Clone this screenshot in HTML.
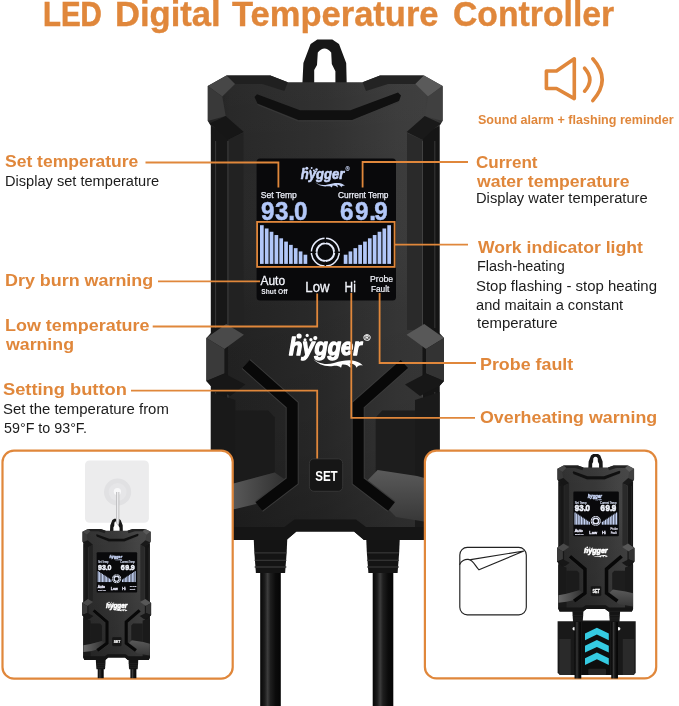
<!DOCTYPE html>
<html><head><meta charset="utf-8"><title>LED Digital Temperature Controller</title>
<style>
html,body{margin:0;padding:0;background:#fff;}
#wrap{position:relative;width:679px;height:706px;overflow:hidden;background:#fff;font-family:"Liberation Sans",sans-serif;}
svg{position:absolute;left:0;top:0;will-change:transform;}
#lab{position:absolute;left:0;top:0;width:679px;height:706px;will-change:transform;}
.t{position:absolute;white-space:nowrap;line-height:1;transform-origin:0 50%;}
</style></head><body>
<div id="wrap">
<svg width="679" height="706" viewBox="0 0 679 706">
<defs><linearGradient id="gBody" x1="0" y1="0" x2="1" y2="0">
<stop offset="0" stop-color="#1b1b1b"/><stop offset="0.1" stop-color="#242424"/><stop offset="0.5" stop-color="#2c2c2c"/><stop offset="0.8" stop-color="#383838"/><stop offset="0.92" stop-color="#3a3a3a"/><stop offset="1" stop-color="#292929"/>
</linearGradient>
<linearGradient id="gBodyV" x1="0" y1="0" x2="0" y2="1">
<stop offset="0" stop-color="#fff" stop-opacity="0.03"/><stop offset="0.2" stop-color="#fff" stop-opacity="0.015"/><stop offset="0.5" stop-color="#000" stop-opacity="0.05"/><stop offset="0.8" stop-color="#000" stop-opacity="0.12"/><stop offset="1" stop-color="#000" stop-opacity="0.24"/>
</linearGradient>
<linearGradient id="gCab" x1="0" y1="0" x2="1" y2="0">
<stop offset="0" stop-color="#060606"/><stop offset="0.22" stop-color="#1c1c1c"/><stop offset="0.36" stop-color="#3c3c3c"/><stop offset="0.5" stop-color="#1e1e1e"/><stop offset="0.75" stop-color="#0b0b0b"/><stop offset="1" stop-color="#050505"/>
</linearGradient>
<linearGradient id="gFacR" x1="0" y1="0" x2="0" y2="1">
<stop offset="0" stop-color="#5a5a5a"/><stop offset="1" stop-color="#363636"/>
</linearGradient>
<linearGradient id="gFacL" x1="0" y1="0" x2="1" y2="0">
<stop offset="0" stop-color="#686868"/><stop offset="0.4" stop-color="#525252"/><stop offset="1" stop-color="#2e2e2e"/>
</linearGradient></defs>
<g>
<path d="M302.4,83.5 L303.4,62.9 L310.6,43.9 L317.3,39.4 L332.3,39.4 L339,43.9 L346.2,62.9 L346.7,83.5 L335.4,83.5 L335.4,71.2 L331.8,64 L331.2,52.6 Q324.5,44.4 317.8,52.6 L317,65 L314.2,70.1 L314.2,83.5 Z" fill="#171717"/>
<rect x="260.2" y="570" width="20.6" height="142.0" fill="url(#gCab)"/>
<polygon points="253.7,538.0 287.3,538.0 286.7,552.0 285.1,573.0 255.9,573.0 254.3,552.0" fill="#141414"/>
<line x1="254.7" y1="552.8" x2="286.3" y2="552.8" stroke="#343434" stroke-width="1.3"/>
<line x1="254.7" y1="560.3" x2="286.3" y2="560.3" stroke="#343434" stroke-width="1.3"/>
<line x1="254.7" y1="567" x2="286.3" y2="567" stroke="#343434" stroke-width="1.3"/>
<rect x="372.7" y="570" width="20.6" height="142.0" fill="url(#gCab)"/>
<polygon points="366.2,538.0 399.8,538.0 399.2,552.0 397.6,573.0 368.4,573.0 366.8,552.0" fill="#141414"/>
<line x1="367.2" y1="552.8" x2="398.8" y2="552.8" stroke="#343434" stroke-width="1.3"/>
<line x1="367.2" y1="560.3" x2="398.8" y2="560.3" stroke="#343434" stroke-width="1.3"/>
<line x1="367.2" y1="567" x2="398.8" y2="567" stroke="#343434" stroke-width="1.3"/>
<polygon points="362.6,82.3 380.0,75.6 424.0,75.6 442.6,86.0 442.6,121.0 439.5,126.0 439.5,333.0 444.0,338.0 444.0,381.0 439.5,386.0 439.5,532.0 436.0,540.0 364.0,540.0 354.0,531.5 296.4,531.5 286.4,540.0 214.4,540.0 210.9,532.0 210.9,386.0 206.4,381.0 206.4,338.0 210.9,333.0 210.9,126.0 207.8,121.0 207.8,86.0 226.4,75.6 270.4,75.6 287.8,82.3" fill="url(#gBody)"/>
<polygon points="362.6,82.3 380.0,75.6 424.0,75.6 442.6,86.0 442.6,121.0 439.5,126.0 439.5,333.0 444.0,338.0 444.0,381.0 439.5,386.0 439.5,532.0 436.0,540.0 364.0,540.0 354.0,531.5 296.4,531.5 286.4,540.0 214.4,540.0 210.9,532.0 210.9,386.0 206.4,381.0 206.4,338.0 210.9,333.0 210.9,126.0 207.8,121.0 207.8,86.0 226.4,75.6 270.4,75.6 287.8,82.3" fill="url(#gBodyV)"/>
<polygon points="422.5,134.0 439.5,126.0 439.5,532.0 422.5,532.0" fill="#151515"/>
<polygon points="227.9,134.0 210.9,126.0 210.9,532.0 227.9,532.0" fill="#171717"/>
<polygon points="407.0,133.0 422.5,140.0 422.5,330.0 407.0,330.0" fill="#2a2a2a"/>
<polygon points="243.4,133.0 227.9,140.0 227.9,330.0 243.4,330.0" fill="#222"/>
<line x1="422.5" y1="141" x2="422.5" y2="328" stroke="#444" stroke-width="0.9"/>
<line x1="227.89999999999998" y1="141" x2="227.89999999999998" y2="328" stroke="#444" stroke-width="0.9"/>
<line x1="422.5" y1="392" x2="422.5" y2="470" stroke="#444" stroke-width="0.9"/>
<line x1="227.89999999999998" y1="392" x2="227.89999999999998" y2="470" stroke="#444" stroke-width="0.9"/>
<line x1="434.8" y1="141" x2="434.8" y2="328" stroke="#3c3c3c" stroke-width="0.9"/>
<line x1="215.59999999999997" y1="141" x2="215.59999999999997" y2="328" stroke="#3c3c3c" stroke-width="0.9"/>
<line x1="434.8" y1="392" x2="434.8" y2="470" stroke="#3c3c3c" stroke-width="0.9"/>
<line x1="215.59999999999997" y1="392" x2="215.59999999999997" y2="470" stroke="#3c3c3c" stroke-width="0.9"/>
<polygon points="380.0,75.6 423.9,75.6 415.4,84.0 388.0,84.0 366.0,91.0 362.6,82.3" fill="#232323"/>
<polygon points="270.4,75.6 226.5,75.6 235.0,84.0 262.4,84.0 284.4,91.0 287.8,82.3" fill="#202020"/>
<polygon points="415.4,84.0 423.9,75.6 442.6,86.0 428.1,96.4" fill="#5a5a5a"/>
<polygon points="235.0,84.0 226.5,75.6 207.8,86.0 222.3,96.4" fill="#474747"/>
<polygon points="428.1,96.4 442.6,86.0 442.6,121.0 424.7,116.0" fill="#404040"/>
<polygon points="222.3,96.4 207.8,86.0 207.8,121.0 225.7,116.0" fill="#393939"/>
<polygon points="424.7,116.0 440.9,123.6 435.0,128.0 422.2,139.8 406.6,132.1" fill="#191919"/>
<polygon points="225.7,116.0 209.5,123.6 215.4,128.0 228.2,139.8 243.8,132.1" fill="#161616"/>
<polygon points="254.5,97.0 257.0,94.2 300.0,110.3 350.4,110.3 398.0,92.6 401.0,95.5 399.0,101.0 352.0,120.0 298.4,120.0 257.5,103.5" fill="#101010"/>
<polyline points="257.5,104.5 298.4,121.0 352.0,121.0 399.0,102.0" fill="none" stroke="#3a3a3a" stroke-width="0.8"/>
<polygon points="406.5,334.7 424.2,324.0 444.0,338.0 426.0,349.0" fill="#585858"/>
<polygon points="243.9,334.7 226.2,324.0 206.4,338.0 224.4,349.0" fill="#4a4a4a"/>
<polygon points="426.0,349.0 444.0,338.0 444.0,381.0 426.0,373.6" fill="#333"/>
<polygon points="224.4,349.0 206.4,338.0 206.4,381.0 224.4,373.6" fill="#3a3a3a"/>
<polygon points="426.0,373.6 444.0,381.0 439.5,386.0 420.0,396.0 405.0,384.5" fill="#171717"/>
<polygon points="224.4,373.6 206.4,381.0 210.9,386.0 230.4,396.0 245.4,384.5" fill="#171717"/>
<polygon points="375.7,417.4 382.2,410.4 415.0,410.4 415.0,483.0 375.7,472.4" fill="#1d1d1d"/>
<polygon points="274.7,417.4 268.2,410.4 235.4,410.4 235.4,483.0 274.7,472.4" fill="#1b1b1b"/>
<polygon points="415.0,400.0 439.5,392.0 439.5,529.0 415.0,529.0" fill="#1a1a1a"/>
<polygon points="235.4,400.0 210.9,392.0 210.9,529.0 235.4,529.0" fill="#191919"/>
<polygon points="377.6,470.0 417.0,476.0 439.5,482.0 439.5,524.0 396.0,517.0 364.0,484.0" fill="url(#gFacR)"/>
<polygon points="235.4,483.0 274.7,472.4 287.0,481.0 256.0,504.0 235.4,509.0 210.9,512.0 210.9,488.0" fill="url(#gFacL)"/>
<polyline points="404.4,364.0 358.2,405.0 358.2,481.0 391.5,506.5" fill="none" stroke="#3a3a3a" stroke-width="13" stroke-linejoin="miter"/>
<polyline points="404.4,364.0 358.2,405.0 358.2,481.0 391.5,506.5" fill="none" stroke="#080808" stroke-width="11" stroke-linejoin="miter"/>
<polyline points="246.0,364.0 292.2,405.0 292.2,481.0 258.9,506.5" fill="none" stroke="#3a3a3a" stroke-width="13" stroke-linejoin="miter"/>
<polyline points="246.0,364.0 292.2,405.0 292.2,481.0 258.9,506.5" fill="none" stroke="#080808" stroke-width="11" stroke-linejoin="miter"/>
<polygon points="439.5,527.0 366.0,527.0 356.0,519.5 294.4,519.5 284.4,527.0 210.9,527.0 210.9,532.0 214.4,540.0 286.4,540.0 296.4,531.5 354.0,531.5 364.0,540.0 436.0,540.0 439.5,532.0" fill="#151515"/>
<rect x="256.6" y="158.6" width="139.4" height="142" rx="3.5" fill="#09090b"/>
<rect x="260.00" y="225.20" width="3.7" height="38.70" fill="#b2c7f8"/>
<rect x="387.30" y="225.20" width="3.7" height="38.70" fill="#b2c7f8"/>
<rect x="264.84" y="228.48" width="3.7" height="35.42" fill="#b2c7f8"/>
<rect x="382.46" y="228.48" width="3.7" height="35.42" fill="#b2c7f8"/>
<rect x="269.68" y="231.76" width="3.7" height="32.14" fill="#b2c7f8"/>
<rect x="377.62" y="231.76" width="3.7" height="32.14" fill="#b2c7f8"/>
<rect x="274.52" y="235.03" width="3.7" height="28.87" fill="#b2c7f8"/>
<rect x="372.78" y="235.03" width="3.7" height="28.87" fill="#b2c7f8"/>
<rect x="279.36" y="238.31" width="3.7" height="25.59" fill="#b2c7f8"/>
<rect x="367.94" y="238.31" width="3.7" height="25.59" fill="#b2c7f8"/>
<rect x="284.20" y="241.59" width="3.7" height="22.31" fill="#b2c7f8"/>
<rect x="363.10" y="241.59" width="3.7" height="22.31" fill="#b2c7f8"/>
<rect x="289.04" y="244.87" width="3.7" height="19.03" fill="#b2c7f8"/>
<rect x="358.26" y="244.87" width="3.7" height="19.03" fill="#b2c7f8"/>
<rect x="293.88" y="248.14" width="3.7" height="15.76" fill="#b2c7f8"/>
<rect x="353.42" y="248.14" width="3.7" height="15.76" fill="#b2c7f8"/>
<rect x="298.72" y="251.42" width="3.7" height="12.48" fill="#b2c7f8"/>
<rect x="348.58" y="251.42" width="3.7" height="12.48" fill="#b2c7f8"/>
<rect x="303.56" y="254.70" width="3.7" height="9.20" fill="#b2c7f8"/>
<rect x="343.74" y="254.70" width="3.7" height="9.20" fill="#b2c7f8"/>
<circle cx="325.3" cy="252.2" r="13.9" fill="none" stroke="#e6ebfb" stroke-width="1.5"/>
<circle cx="325.3" cy="252.2" r="8.9" fill="none" stroke="#e6ebfb" stroke-width="2.1"/>
<path d="M325.3,236 V243 M325.3,261.5 V268 M309,252.2 H316.2 M334.4,252.2 H341.5" stroke="#09090b" stroke-width="1.5"/>
<rect x="309.4" y="458.8" width="33.3" height="32.5" rx="4.5" fill="#161616" stroke="#383838" stroke-width="0.9"/>
<text x="260.8" y="197.5" font-family="Liberation Sans, sans-serif" font-size="9.6" fill="#eef1fb" stroke="#eef1fb" stroke-width="0.25" textLength="36" lengthAdjust="spacingAndGlyphs">Set Temp</text>
<text x="338" y="197.5" font-family="Liberation Sans, sans-serif" font-size="9.6" fill="#eef1fb" stroke="#eef1fb" stroke-width="0.25" textLength="50.5" lengthAdjust="spacingAndGlyphs">Current Temp</text>
<g transform="translate(0,219.6) scale(1.1,1.2)" font-family="Liberation Sans, sans-serif" font-weight="bold" font-size="22" fill="#b2c7f8" stroke="#b2c7f8" stroke-width="0.45"><text y="0" x="237.18 249.91 262.00 267.36">93.0</text><text y="0" x="309.00 322.64 335.64 340.18">69.9</text></g>
<g transform="translate(300.2,179.4) scale(0.6) translate(-288.1,-354.5)" fill="#c9d6f8">
<text x="289" y="354.6" font-family="Liberation Sans, sans-serif" font-size="24" font-weight="bold" font-style="italic" stroke="#c9d6f8" stroke-width="1.0" stroke-linejoin="round" textLength="72.6" lengthAdjust="spacingAndGlyphs">hygger</text>
<text x="363.6" y="341.2" font-family="Liberation Sans, sans-serif" font-size="9.6" stroke="#c9d6f8" stroke-width="0.2">®</text>
<path d="M313,358.5 C317,363 325,365.5 334,363 C342,360.8 349,359.5 355,361 C359,362 361.5,363.8 362.8,365.5 C359.5,364.8 357.5,365.5 356.6,367.8 C355.5,365 353,363.6 349.5,363.6 C350.8,365 351,366.5 350.5,367.8 C348.5,365.5 346,364.3 342.5,364.5 C341.5,364.6 341.8,366.5 341,367.8 C339,366 336.5,365.6 333,366 C325,367 317,364 313,358.5 Z"/>
<circle cx="299.1" cy="336" r="2.6"/>
<circle cx="305" cy="339.7" r="1.5"/>
<circle cx="307.2" cy="335.4" r="1.6"/>
<circle cx="310.9" cy="339.7" r="1.7"/>
<circle cx="315.3" cy="338.1" r="2.1"/>
</g>
<text x="260.5" y="284.6" font-family="Liberation Sans, sans-serif" font-size="12.2" fill="#f3f5fc" stroke="#f3f5fc" stroke-width="0.3" textLength="24.6" lengthAdjust="spacingAndGlyphs">Auto</text>
<text x="261.3" y="294" font-family="Liberation Sans, sans-serif" font-size="7.4" font-weight="bold" fill="#f3f5fc" textLength="26.3" lengthAdjust="spacingAndGlyphs">Shut Off</text>
<text x="305.3" y="292" font-family="Liberation Sans, sans-serif" font-size="14" fill="#f3f5fc" stroke="#f3f5fc" stroke-width="0.3" textLength="24.2" lengthAdjust="spacingAndGlyphs">Low</text>
<text x="344.6" y="292" font-family="Liberation Sans, sans-serif" font-size="14" fill="#f3f5fc" stroke="#f3f5fc" stroke-width="0.3" textLength="11.2" lengthAdjust="spacingAndGlyphs">Hi</text>
<text x="370.1" y="281.5" font-family="Liberation Sans, sans-serif" font-size="9" fill="#f3f5fc" stroke="#f3f5fc" stroke-width="0.2" textLength="23" lengthAdjust="spacingAndGlyphs">Probe</text>
<text x="370.9" y="291.5" font-family="Liberation Sans, sans-serif" font-size="9" fill="#f3f5fc" stroke="#f3f5fc" stroke-width="0.2" textLength="18.5" lengthAdjust="spacingAndGlyphs">Fault</text>
<g fill="#fff">
<text x="289" y="354.6" font-family="Liberation Sans, sans-serif" font-size="24" font-weight="bold" font-style="italic" stroke="#fff" stroke-width="1.3" stroke-linejoin="round" textLength="72.6" lengthAdjust="spacingAndGlyphs">hygger</text>
<text x="363.6" y="341.2" font-family="Liberation Sans, sans-serif" font-size="9.6" stroke="#fff" stroke-width="0.2">®</text>
<path d="M313,358.5 C317,363 325,365.5 334,363 C342,360.8 349,359.5 355,361 C359,362 361.5,363.8 362.8,365.5 C359.5,364.8 357.5,365.5 356.6,367.8 C355.5,365 353,363.6 349.5,363.6 C350.8,365 351,366.5 350.5,367.8 C348.5,365.5 346,364.3 342.5,364.5 C341.5,364.6 341.8,366.5 341,367.8 C339,366 336.5,365.6 333,366 C325,367 317,364 313,358.5 Z"/>
<circle cx="299.1" cy="336" r="2.6"/>
<circle cx="305" cy="339.7" r="1.5"/>
<circle cx="307.2" cy="335.4" r="1.6"/>
<circle cx="310.9" cy="339.7" r="1.7"/>
<circle cx="315.3" cy="338.1" r="2.1"/>
</g>
<text x="315.2" y="480.8" font-family="Liberation Sans, sans-serif" font-size="14.4" font-weight="bold" fill="#fff" textLength="22.5" lengthAdjust="spacingAndGlyphs">SET</text>
</g>
<path d="M145.5,162.5 H278.4 V187.5" fill="none" stroke="#e0873b" stroke-width="1.8"/>
<path d="M158,281.4 H260" fill="none" stroke="#e0873b" stroke-width="1.8"/>
<path d="M152.7,326.5 H317.2 V293.5" fill="none" stroke="#e0873b" stroke-width="1.8"/>
<path d="M131,390.6 H317.2 V458.5" fill="none" stroke="#e0873b" stroke-width="1.8"/>
<path d="M468,162 H362.6 V187.5" fill="none" stroke="#e0873b" stroke-width="1.8"/>
<path d="M468,244.6 H394.6" fill="none" stroke="#e0873b" stroke-width="1.8"/>
<path d="M476,363 H379.6 V293" fill="none" stroke="#e0873b" stroke-width="1.8"/>
<path d="M475,417.8 H351.3 V293" fill="none" stroke="#e0873b" stroke-width="1.8"/>
<rect x="257.1" y="221.9" width="137.5" height="45" fill="none" stroke="#e0873b" stroke-width="1.8"/>
<g fill="none" stroke="#e0873b" stroke-width="3.6" stroke-linecap="round" stroke-linejoin="round">
<path d="M546.4,71 H556.5 L574.3,58.8 V98.6 L556.5,88.5 H546.4 Z"/>
<path d="M584.6,68.2 Q595,79.8 584.6,91.2"/>
<path d="M592.8,58.8 Q611.5,79.8 592.8,100.6"/>
</g>
<rect x="2.5" y="450.6" width="230.2" height="228.1" rx="11.5" fill="#fff" stroke="#e0873b" stroke-width="2.2"/>
<rect x="424.9" y="450.6" width="231.3" height="227.8" rx="11.5" fill="#fff" stroke="#e0873b" stroke-width="2.2"/>
<rect x="85" y="460.5" width="63.9" height="62.2" rx="4.5" fill="#ececed"/>
<circle cx="117.6" cy="492" r="13.6" fill="#e1e1e3"/>
<circle cx="117.6" cy="492" r="9" fill="#e6e6e8"/>
<circle cx="117.4" cy="491.5" r="3.6" fill="#f8f8f9"/>

<g transform="translate(22.161,507.558) scale(0.29040,0.28230)">
<path d="M302.4,83.5 L303.4,62.9 L310.6,43.9 L317.3,39.4 L332.3,39.4 L339,43.9 L346.2,62.9 L346.7,83.5 L335.4,83.5 L335.4,71.2 L331.8,64 L331.2,52.6 Q324.5,44.4 317.8,52.6 L317,65 L314.2,70.1 L314.2,83.5 Z" fill="#171717"/>
<rect x="260.2" y="570" width="20.6" height="34.5" fill="url(#gCab)"/>
<polygon points="253.7,538.0 287.3,538.0 286.7,552.0 285.1,573.0 255.9,573.0 254.3,552.0" fill="#141414"/>
<line x1="254.7" y1="552.8" x2="286.3" y2="552.8" stroke="#343434" stroke-width="1.3"/>
<line x1="254.7" y1="560.3" x2="286.3" y2="560.3" stroke="#343434" stroke-width="1.3"/>
<line x1="254.7" y1="567" x2="286.3" y2="567" stroke="#343434" stroke-width="1.3"/>
<rect x="372.7" y="570" width="20.6" height="34.5" fill="url(#gCab)"/>
<polygon points="366.2,538.0 399.8,538.0 399.2,552.0 397.6,573.0 368.4,573.0 366.8,552.0" fill="#141414"/>
<line x1="367.2" y1="552.8" x2="398.8" y2="552.8" stroke="#343434" stroke-width="1.3"/>
<line x1="367.2" y1="560.3" x2="398.8" y2="560.3" stroke="#343434" stroke-width="1.3"/>
<line x1="367.2" y1="567" x2="398.8" y2="567" stroke="#343434" stroke-width="1.3"/>
<polygon points="362.6,82.3 380.0,75.6 424.0,75.6 442.6,86.0 442.6,121.0 439.5,126.0 439.5,333.0 444.0,338.0 444.0,381.0 439.5,386.0 439.5,532.0 436.0,540.0 364.0,540.0 354.0,531.5 296.4,531.5 286.4,540.0 214.4,540.0 210.9,532.0 210.9,386.0 206.4,381.0 206.4,338.0 210.9,333.0 210.9,126.0 207.8,121.0 207.8,86.0 226.4,75.6 270.4,75.6 287.8,82.3" fill="url(#gBody)"/>
<polygon points="362.6,82.3 380.0,75.6 424.0,75.6 442.6,86.0 442.6,121.0 439.5,126.0 439.5,333.0 444.0,338.0 444.0,381.0 439.5,386.0 439.5,532.0 436.0,540.0 364.0,540.0 354.0,531.5 296.4,531.5 286.4,540.0 214.4,540.0 210.9,532.0 210.9,386.0 206.4,381.0 206.4,338.0 210.9,333.0 210.9,126.0 207.8,121.0 207.8,86.0 226.4,75.6 270.4,75.6 287.8,82.3" fill="url(#gBodyV)"/>
<polygon points="362.6,82.3 380.0,75.6 424.0,75.6 442.6,86.0 442.6,121.0 439.5,126.0 439.5,333.0 444.0,338.0 444.0,381.0 439.5,386.0 439.5,532.0 436.0,540.0 364.0,540.0 354.0,531.5 296.4,531.5 286.4,540.0 214.4,540.0 210.9,532.0 210.9,386.0 206.4,381.0 206.4,338.0 210.9,333.0 210.9,126.0 207.8,121.0 207.8,86.0 226.4,75.6 270.4,75.6 287.8,82.3" fill="#fff" opacity="0.045"/>
<polygon points="422.5,134.0 439.5,126.0 439.5,532.0 422.5,532.0" fill="#151515"/>
<polygon points="227.9,134.0 210.9,126.0 210.9,532.0 227.9,532.0" fill="#171717"/>
<polygon points="407.0,133.0 422.5,140.0 422.5,330.0 407.0,330.0" fill="#2a2a2a"/>
<polygon points="243.4,133.0 227.9,140.0 227.9,330.0 243.4,330.0" fill="#222"/>
<line x1="422.5" y1="141" x2="422.5" y2="328" stroke="#444" stroke-width="0.9"/>
<line x1="227.89999999999998" y1="141" x2="227.89999999999998" y2="328" stroke="#444" stroke-width="0.9"/>
<line x1="422.5" y1="392" x2="422.5" y2="470" stroke="#444" stroke-width="0.9"/>
<line x1="227.89999999999998" y1="392" x2="227.89999999999998" y2="470" stroke="#444" stroke-width="0.9"/>
<line x1="434.8" y1="141" x2="434.8" y2="328" stroke="#3c3c3c" stroke-width="0.9"/>
<line x1="215.59999999999997" y1="141" x2="215.59999999999997" y2="328" stroke="#3c3c3c" stroke-width="0.9"/>
<line x1="434.8" y1="392" x2="434.8" y2="470" stroke="#3c3c3c" stroke-width="0.9"/>
<line x1="215.59999999999997" y1="392" x2="215.59999999999997" y2="470" stroke="#3c3c3c" stroke-width="0.9"/>
<polygon points="380.0,75.6 423.9,75.6 415.4,84.0 388.0,84.0 366.0,91.0 362.6,82.3" fill="#232323"/>
<polygon points="270.4,75.6 226.5,75.6 235.0,84.0 262.4,84.0 284.4,91.0 287.8,82.3" fill="#202020"/>
<polygon points="415.4,84.0 423.9,75.6 442.6,86.0 428.1,96.4" fill="#5a5a5a"/>
<polygon points="235.0,84.0 226.5,75.6 207.8,86.0 222.3,96.4" fill="#474747"/>
<polygon points="428.1,96.4 442.6,86.0 442.6,121.0 424.7,116.0" fill="#404040"/>
<polygon points="222.3,96.4 207.8,86.0 207.8,121.0 225.7,116.0" fill="#393939"/>
<polygon points="424.7,116.0 440.9,123.6 435.0,128.0 422.2,139.8 406.6,132.1" fill="#191919"/>
<polygon points="225.7,116.0 209.5,123.6 215.4,128.0 228.2,139.8 243.8,132.1" fill="#161616"/>
<polygon points="254.5,97.0 257.0,94.2 300.0,110.3 350.4,110.3 398.0,92.6 401.0,95.5 399.0,101.0 352.0,120.0 298.4,120.0 257.5,103.5" fill="#101010"/>
<polyline points="257.5,104.5 298.4,121.0 352.0,121.0 399.0,102.0" fill="none" stroke="#3a3a3a" stroke-width="0.8"/>
<polygon points="406.5,334.7 424.2,324.0 444.0,338.0 426.0,349.0" fill="#585858"/>
<polygon points="243.9,334.7 226.2,324.0 206.4,338.0 224.4,349.0" fill="#4a4a4a"/>
<polygon points="426.0,349.0 444.0,338.0 444.0,381.0 426.0,373.6" fill="#333"/>
<polygon points="224.4,349.0 206.4,338.0 206.4,381.0 224.4,373.6" fill="#3a3a3a"/>
<polygon points="426.0,373.6 444.0,381.0 439.5,386.0 420.0,396.0 405.0,384.5" fill="#171717"/>
<polygon points="224.4,373.6 206.4,381.0 210.9,386.0 230.4,396.0 245.4,384.5" fill="#171717"/>
<polygon points="375.7,417.4 382.2,410.4 415.0,410.4 415.0,483.0 375.7,472.4" fill="#1d1d1d"/>
<polygon points="274.7,417.4 268.2,410.4 235.4,410.4 235.4,483.0 274.7,472.4" fill="#1b1b1b"/>
<polygon points="415.0,400.0 439.5,392.0 439.5,529.0 415.0,529.0" fill="#1a1a1a"/>
<polygon points="235.4,400.0 210.9,392.0 210.9,529.0 235.4,529.0" fill="#191919"/>
<polygon points="377.6,470.0 417.0,476.0 439.5,482.0 439.5,524.0 396.0,517.0 364.0,484.0" fill="url(#gFacR)"/>
<polygon points="235.4,483.0 274.7,472.4 287.0,481.0 256.0,504.0 235.4,509.0 210.9,512.0 210.9,488.0" fill="url(#gFacL)"/>
<polyline points="404.4,364.0 358.2,405.0 358.2,481.0 391.5,506.5" fill="none" stroke="#3a3a3a" stroke-width="13" stroke-linejoin="miter"/>
<polyline points="404.4,364.0 358.2,405.0 358.2,481.0 391.5,506.5" fill="none" stroke="#080808" stroke-width="11" stroke-linejoin="miter"/>
<polyline points="246.0,364.0 292.2,405.0 292.2,481.0 258.9,506.5" fill="none" stroke="#3a3a3a" stroke-width="13" stroke-linejoin="miter"/>
<polyline points="246.0,364.0 292.2,405.0 292.2,481.0 258.9,506.5" fill="none" stroke="#080808" stroke-width="11" stroke-linejoin="miter"/>
<polygon points="439.5,527.0 366.0,527.0 356.0,519.5 294.4,519.5 284.4,527.0 210.9,527.0 210.9,532.0 214.4,540.0 286.4,540.0 296.4,531.5 354.0,531.5 364.0,540.0 436.0,540.0 439.5,532.0" fill="#151515"/>
<rect x="256.6" y="158.6" width="139.4" height="142" rx="3.5" fill="#09090b"/>
<rect x="260.00" y="225.20" width="3.7" height="38.70" fill="#c6d4f6"/>
<rect x="387.30" y="225.20" width="3.7" height="38.70" fill="#c6d4f6"/>
<rect x="264.84" y="228.48" width="3.7" height="35.42" fill="#c6d4f6"/>
<rect x="382.46" y="228.48" width="3.7" height="35.42" fill="#c6d4f6"/>
<rect x="269.68" y="231.76" width="3.7" height="32.14" fill="#c6d4f6"/>
<rect x="377.62" y="231.76" width="3.7" height="32.14" fill="#c6d4f6"/>
<rect x="274.52" y="235.03" width="3.7" height="28.87" fill="#c6d4f6"/>
<rect x="372.78" y="235.03" width="3.7" height="28.87" fill="#c6d4f6"/>
<rect x="279.36" y="238.31" width="3.7" height="25.59" fill="#c6d4f6"/>
<rect x="367.94" y="238.31" width="3.7" height="25.59" fill="#c6d4f6"/>
<rect x="284.20" y="241.59" width="3.7" height="22.31" fill="#c6d4f6"/>
<rect x="363.10" y="241.59" width="3.7" height="22.31" fill="#c6d4f6"/>
<rect x="289.04" y="244.87" width="3.7" height="19.03" fill="#c6d4f6"/>
<rect x="358.26" y="244.87" width="3.7" height="19.03" fill="#c6d4f6"/>
<rect x="293.88" y="248.14" width="3.7" height="15.76" fill="#c6d4f6"/>
<rect x="353.42" y="248.14" width="3.7" height="15.76" fill="#c6d4f6"/>
<rect x="298.72" y="251.42" width="3.7" height="12.48" fill="#c6d4f6"/>
<rect x="348.58" y="251.42" width="3.7" height="12.48" fill="#c6d4f6"/>
<rect x="303.56" y="254.70" width="3.7" height="9.20" fill="#c6d4f6"/>
<rect x="343.74" y="254.70" width="3.7" height="9.20" fill="#c6d4f6"/>
<circle cx="325.3" cy="252.2" r="13.9" fill="none" stroke="#e6ebfb" stroke-width="3.2"/>
<circle cx="325.3" cy="252.2" r="8.9" fill="none" stroke="#e6ebfb" stroke-width="4.5"/>
<path d="M325.3,236 V243 M325.3,261.5 V268 M309,252.2 H316.2 M334.4,252.2 H341.5" stroke="#09090b" stroke-width="1.5"/>
<rect x="309.4" y="458.8" width="33.3" height="32.5" rx="4.5" fill="#161616" stroke="#383838" stroke-width="0.9"/>
</g>
<g transform="translate(22.161,507.558) scale(0.29040,0.28230)">
<g transform="translate(0,219.6) scale(1.1,1.2)" font-family="Liberation Sans, sans-serif" font-weight="bold" font-size="22" fill="#f4f7ff" stroke="#f4f7ff" stroke-width="1.5"><text y="0" x="237.18 249.91 262.00 267.36">93.0</text><text y="0" x="309.00 322.64 335.64 340.18">69.9</text></g>
<text x="260.8" y="197.5" font-family="Liberation Sans, sans-serif" font-size="9.6" fill="#cfd6ea" stroke="#cfd6ea" stroke-width="0.6" textLength="36" lengthAdjust="spacingAndGlyphs">Set Temp</text>
<text x="338" y="197.5" font-family="Liberation Sans, sans-serif" font-size="9.6" fill="#cfd6ea" stroke="#cfd6ea" stroke-width="0.6" textLength="50.5" lengthAdjust="spacingAndGlyphs">Current Temp</text>
<text x="261.3" y="296" font-family="Liberation Sans, sans-serif" font-size="7.4" font-weight="bold" fill="#dde" stroke="#dde" stroke-width="0.6" textLength="26.3" lengthAdjust="spacingAndGlyphs">Shut Off</text>
<text x="370.1" y="282" font-family="Liberation Sans, sans-serif" font-size="9" fill="#dde" stroke="#dde" stroke-width="0.6" textLength="23" lengthAdjust="spacingAndGlyphs">Probe</text>
<text x="370.9" y="292.5" font-family="Liberation Sans, sans-serif" font-size="9" fill="#dde" stroke="#dde" stroke-width="0.6" textLength="18.5" lengthAdjust="spacingAndGlyphs">Fault</text>
<g transform="translate(300.2,179.4) scale(0.6) translate(-288.1,-354.5)" fill="#c9d6f8">
<text x="289" y="354.6" font-family="Liberation Sans, sans-serif" font-size="24" font-weight="bold" font-style="italic" stroke="#c9d6f8" stroke-width="2.0" stroke-linejoin="round" textLength="72.6" lengthAdjust="spacingAndGlyphs">hygger</text>
<path d="M313,358.5 C317,363 325,365.5 334,363 C342,360.8 349,359.5 355,361 C359,362 361.5,363.8 362.8,365.5 C359.5,364.8 357.5,365.5 356.6,367.8 C355.5,365 353,363.6 349.5,363.6 C350.8,365 351,366.5 350.5,367.8 C348.5,365.5 346,364.3 342.5,364.5 C341.5,364.6 341.8,366.5 341,367.8 C339,366 336.5,365.6 333,366 C325,367 317,364 313,358.5 Z"/>
<circle cx="299.1" cy="336" r="2.6"/>
<circle cx="305" cy="339.7" r="1.5"/>
<circle cx="307.2" cy="335.4" r="1.6"/>
<circle cx="310.9" cy="339.7" r="1.7"/>
<circle cx="315.3" cy="338.1" r="2.1"/>
</g>
<text x="260.5" y="286" font-family="Liberation Sans, sans-serif" font-size="12" fill="#eef" stroke="#eef" stroke-width="1.1" textLength="24.6" lengthAdjust="spacingAndGlyphs">Auto</text>
<text x="305.3" y="292" font-family="Liberation Sans, sans-serif" font-size="14" fill="#eef" stroke="#eef" stroke-width="1.1" textLength="24.2" lengthAdjust="spacingAndGlyphs">Low</text>
<text x="344.6" y="292" font-family="Liberation Sans, sans-serif" font-size="14" fill="#eef" stroke="#eef" stroke-width="1.1" textLength="11.2" lengthAdjust="spacingAndGlyphs">Hi</text>
<g fill="#fff">
<text x="289" y="354.6" font-family="Liberation Sans, sans-serif" font-size="24" font-weight="bold" font-style="italic" stroke="#fff" stroke-width="2.2" stroke-linejoin="round" textLength="72.6" lengthAdjust="spacingAndGlyphs">hygger</text>
<path d="M313,358.5 C317,363 325,365.5 334,363 C342,360.8 349,359.5 355,361 C359,362 361.5,363.8 362.8,365.5 C359.5,364.8 357.5,365.5 356.6,367.8 C355.5,365 353,363.6 349.5,363.6 C350.8,365 351,366.5 350.5,367.8 C348.5,365.5 346,364.3 342.5,364.5 C341.5,364.6 341.8,366.5 341,367.8 C339,366 336.5,365.6 333,366 C325,367 317,364 313,358.5 Z"/>
<circle cx="299.1" cy="336" r="2.6"/>
<circle cx="305" cy="339.7" r="1.5"/>
<circle cx="307.2" cy="335.4" r="1.6"/>
<circle cx="310.9" cy="339.7" r="1.7"/>
<circle cx="315.3" cy="338.1" r="2.1"/>
</g>
<text x="315.2" y="480.8" font-family="Liberation Sans, sans-serif" font-size="14.4" font-weight="bold" fill="#fff" stroke="#fff" stroke-width="0.8" textLength="22.5" lengthAdjust="spacingAndGlyphs">SET</text>
</g>
<path d="M116.5,492 V521 Q116.5,524.5 117.7,524.5 Q118.9,524.5 118.9,521 V492" stroke="#bdbdc0" stroke-width="0.9" fill="#ebebed"/>

<g>
<path d="M557.6,621.3 H582 V620.6 H610.2 V621.3 H635.7 V673 L633,675 H560.3 L557.6,673 Z" fill="#191919"/>
<rect x="559.3" y="639" width="11.5" height="36" fill="#2a2a2a"/><rect x="622.8" y="639" width="11.5" height="36" fill="#2a2a2a"/>
<rect x="582" y="622" width="28.2" height="53" fill="#0e0e0e"/>
<rect x="588.3" y="668.7" width="17.7" height="6.3" rx="1" fill="#242424"/>
<circle cx="574.2" cy="628.8" r="1.7" fill="#f4f4f4"/><circle cx="618.7" cy="628.8" r="1.7" fill="#f4f4f4"/>
<g fill="#35cbe2">
<path d="M585,633.4 L596.9,627.7 L608.8,633.4 V640.2 L596.9,634.5 L585,640.2 Z"/>
<path d="M585,645.8 L596.9,640.1 L608.8,645.8 V652.6 L596.9,646.9 L585,652.6 Z"/>
<path d="M585,658.2 L596.9,652.5 L608.8,658.2 V665.0 L596.9,659.3 L585,665.0 Z"/>
</g>
</g>
<g fill="#fff" stroke="#222" stroke-width="1.15" stroke-linejoin="round" stroke-linecap="round">
<rect x="459.8" y="547.4" width="66.5" height="67.4" rx="7.5"/>
<path d="M459.8,564.4 C461,561 465,559 468.2,559.4 C473.5,560 475,566 479,569.8 L523.9,551 L470.7,559.6" fill="none"/>
</g>
<g transform="translate(489.677,441.600) scale(0.32618,0.31481)">
<path d="M302.4,83.5 L303.4,62.9 L310.6,43.9 L317.3,39.4 L332.3,39.4 L339,43.9 L346.2,62.9 L346.7,83.5 L335.4,83.5 L335.4,71.2 L331.8,64 L331.2,52.6 Q324.5,44.4 317.8,52.6 L317,65 L314.2,70.1 L314.2,83.5 Z" fill="#171717"/>
<rect x="260.2" y="570" width="20.6" height="182.5" fill="url(#gCab)"/>
<polygon points="253.7,538.0 287.3,538.0 286.7,552.0 285.1,573.0 255.9,573.0 254.3,552.0" fill="#141414"/>
<line x1="254.7" y1="552.8" x2="286.3" y2="552.8" stroke="#343434" stroke-width="1.3"/>
<line x1="254.7" y1="560.3" x2="286.3" y2="560.3" stroke="#343434" stroke-width="1.3"/>
<line x1="254.7" y1="567" x2="286.3" y2="567" stroke="#343434" stroke-width="1.3"/>
<rect x="372.7" y="570" width="20.6" height="182.5" fill="url(#gCab)"/>
<polygon points="366.2,538.0 399.8,538.0 399.2,552.0 397.6,573.0 368.4,573.0 366.8,552.0" fill="#141414"/>
<line x1="367.2" y1="552.8" x2="398.8" y2="552.8" stroke="#343434" stroke-width="1.3"/>
<line x1="367.2" y1="560.3" x2="398.8" y2="560.3" stroke="#343434" stroke-width="1.3"/>
<line x1="367.2" y1="567" x2="398.8" y2="567" stroke="#343434" stroke-width="1.3"/>
<polygon points="362.6,82.3 380.0,75.6 424.0,75.6 442.6,86.0 442.6,121.0 439.5,126.0 439.5,333.0 444.0,338.0 444.0,381.0 439.5,386.0 439.5,532.0 436.0,540.0 364.0,540.0 354.0,531.5 296.4,531.5 286.4,540.0 214.4,540.0 210.9,532.0 210.9,386.0 206.4,381.0 206.4,338.0 210.9,333.0 210.9,126.0 207.8,121.0 207.8,86.0 226.4,75.6 270.4,75.6 287.8,82.3" fill="url(#gBody)"/>
<polygon points="362.6,82.3 380.0,75.6 424.0,75.6 442.6,86.0 442.6,121.0 439.5,126.0 439.5,333.0 444.0,338.0 444.0,381.0 439.5,386.0 439.5,532.0 436.0,540.0 364.0,540.0 354.0,531.5 296.4,531.5 286.4,540.0 214.4,540.0 210.9,532.0 210.9,386.0 206.4,381.0 206.4,338.0 210.9,333.0 210.9,126.0 207.8,121.0 207.8,86.0 226.4,75.6 270.4,75.6 287.8,82.3" fill="url(#gBodyV)"/>
<polygon points="362.6,82.3 380.0,75.6 424.0,75.6 442.6,86.0 442.6,121.0 439.5,126.0 439.5,333.0 444.0,338.0 444.0,381.0 439.5,386.0 439.5,532.0 436.0,540.0 364.0,540.0 354.0,531.5 296.4,531.5 286.4,540.0 214.4,540.0 210.9,532.0 210.9,386.0 206.4,381.0 206.4,338.0 210.9,333.0 210.9,126.0 207.8,121.0 207.8,86.0 226.4,75.6 270.4,75.6 287.8,82.3" fill="#fff" opacity="0.045"/>
<polygon points="422.5,134.0 439.5,126.0 439.5,532.0 422.5,532.0" fill="#151515"/>
<polygon points="227.9,134.0 210.9,126.0 210.9,532.0 227.9,532.0" fill="#171717"/>
<polygon points="407.0,133.0 422.5,140.0 422.5,330.0 407.0,330.0" fill="#2a2a2a"/>
<polygon points="243.4,133.0 227.9,140.0 227.9,330.0 243.4,330.0" fill="#222"/>
<line x1="422.5" y1="141" x2="422.5" y2="328" stroke="#444" stroke-width="0.9"/>
<line x1="227.89999999999998" y1="141" x2="227.89999999999998" y2="328" stroke="#444" stroke-width="0.9"/>
<line x1="422.5" y1="392" x2="422.5" y2="470" stroke="#444" stroke-width="0.9"/>
<line x1="227.89999999999998" y1="392" x2="227.89999999999998" y2="470" stroke="#444" stroke-width="0.9"/>
<line x1="434.8" y1="141" x2="434.8" y2="328" stroke="#3c3c3c" stroke-width="0.9"/>
<line x1="215.59999999999997" y1="141" x2="215.59999999999997" y2="328" stroke="#3c3c3c" stroke-width="0.9"/>
<line x1="434.8" y1="392" x2="434.8" y2="470" stroke="#3c3c3c" stroke-width="0.9"/>
<line x1="215.59999999999997" y1="392" x2="215.59999999999997" y2="470" stroke="#3c3c3c" stroke-width="0.9"/>
<polygon points="380.0,75.6 423.9,75.6 415.4,84.0 388.0,84.0 366.0,91.0 362.6,82.3" fill="#232323"/>
<polygon points="270.4,75.6 226.5,75.6 235.0,84.0 262.4,84.0 284.4,91.0 287.8,82.3" fill="#202020"/>
<polygon points="415.4,84.0 423.9,75.6 442.6,86.0 428.1,96.4" fill="#5a5a5a"/>
<polygon points="235.0,84.0 226.5,75.6 207.8,86.0 222.3,96.4" fill="#474747"/>
<polygon points="428.1,96.4 442.6,86.0 442.6,121.0 424.7,116.0" fill="#404040"/>
<polygon points="222.3,96.4 207.8,86.0 207.8,121.0 225.7,116.0" fill="#393939"/>
<polygon points="424.7,116.0 440.9,123.6 435.0,128.0 422.2,139.8 406.6,132.1" fill="#191919"/>
<polygon points="225.7,116.0 209.5,123.6 215.4,128.0 228.2,139.8 243.8,132.1" fill="#161616"/>
<polygon points="254.5,97.0 257.0,94.2 300.0,110.3 350.4,110.3 398.0,92.6 401.0,95.5 399.0,101.0 352.0,120.0 298.4,120.0 257.5,103.5" fill="#101010"/>
<polyline points="257.5,104.5 298.4,121.0 352.0,121.0 399.0,102.0" fill="none" stroke="#3a3a3a" stroke-width="0.8"/>
<polygon points="406.5,334.7 424.2,324.0 444.0,338.0 426.0,349.0" fill="#585858"/>
<polygon points="243.9,334.7 226.2,324.0 206.4,338.0 224.4,349.0" fill="#4a4a4a"/>
<polygon points="426.0,349.0 444.0,338.0 444.0,381.0 426.0,373.6" fill="#333"/>
<polygon points="224.4,349.0 206.4,338.0 206.4,381.0 224.4,373.6" fill="#3a3a3a"/>
<polygon points="426.0,373.6 444.0,381.0 439.5,386.0 420.0,396.0 405.0,384.5" fill="#171717"/>
<polygon points="224.4,373.6 206.4,381.0 210.9,386.0 230.4,396.0 245.4,384.5" fill="#171717"/>
<polygon points="375.7,417.4 382.2,410.4 415.0,410.4 415.0,483.0 375.7,472.4" fill="#1d1d1d"/>
<polygon points="274.7,417.4 268.2,410.4 235.4,410.4 235.4,483.0 274.7,472.4" fill="#1b1b1b"/>
<polygon points="415.0,400.0 439.5,392.0 439.5,529.0 415.0,529.0" fill="#1a1a1a"/>
<polygon points="235.4,400.0 210.9,392.0 210.9,529.0 235.4,529.0" fill="#191919"/>
<polygon points="377.6,470.0 417.0,476.0 439.5,482.0 439.5,524.0 396.0,517.0 364.0,484.0" fill="url(#gFacR)"/>
<polygon points="235.4,483.0 274.7,472.4 287.0,481.0 256.0,504.0 235.4,509.0 210.9,512.0 210.9,488.0" fill="url(#gFacL)"/>
<polyline points="404.4,364.0 358.2,405.0 358.2,481.0 391.5,506.5" fill="none" stroke="#3a3a3a" stroke-width="13" stroke-linejoin="miter"/>
<polyline points="404.4,364.0 358.2,405.0 358.2,481.0 391.5,506.5" fill="none" stroke="#080808" stroke-width="11" stroke-linejoin="miter"/>
<polyline points="246.0,364.0 292.2,405.0 292.2,481.0 258.9,506.5" fill="none" stroke="#3a3a3a" stroke-width="13" stroke-linejoin="miter"/>
<polyline points="246.0,364.0 292.2,405.0 292.2,481.0 258.9,506.5" fill="none" stroke="#080808" stroke-width="11" stroke-linejoin="miter"/>
<polygon points="439.5,527.0 366.0,527.0 356.0,519.5 294.4,519.5 284.4,527.0 210.9,527.0 210.9,532.0 214.4,540.0 286.4,540.0 296.4,531.5 354.0,531.5 364.0,540.0 436.0,540.0 439.5,532.0" fill="#151515"/>
<rect x="256.6" y="158.6" width="139.4" height="142" rx="3.5" fill="#09090b"/>
<rect x="260.00" y="225.20" width="3.7" height="38.70" fill="#c6d4f6"/>
<rect x="387.30" y="225.20" width="3.7" height="38.70" fill="#c6d4f6"/>
<rect x="264.84" y="228.48" width="3.7" height="35.42" fill="#c6d4f6"/>
<rect x="382.46" y="228.48" width="3.7" height="35.42" fill="#c6d4f6"/>
<rect x="269.68" y="231.76" width="3.7" height="32.14" fill="#c6d4f6"/>
<rect x="377.62" y="231.76" width="3.7" height="32.14" fill="#c6d4f6"/>
<rect x="274.52" y="235.03" width="3.7" height="28.87" fill="#c6d4f6"/>
<rect x="372.78" y="235.03" width="3.7" height="28.87" fill="#c6d4f6"/>
<rect x="279.36" y="238.31" width="3.7" height="25.59" fill="#c6d4f6"/>
<rect x="367.94" y="238.31" width="3.7" height="25.59" fill="#c6d4f6"/>
<rect x="284.20" y="241.59" width="3.7" height="22.31" fill="#c6d4f6"/>
<rect x="363.10" y="241.59" width="3.7" height="22.31" fill="#c6d4f6"/>
<rect x="289.04" y="244.87" width="3.7" height="19.03" fill="#c6d4f6"/>
<rect x="358.26" y="244.87" width="3.7" height="19.03" fill="#c6d4f6"/>
<rect x="293.88" y="248.14" width="3.7" height="15.76" fill="#c6d4f6"/>
<rect x="353.42" y="248.14" width="3.7" height="15.76" fill="#c6d4f6"/>
<rect x="298.72" y="251.42" width="3.7" height="12.48" fill="#c6d4f6"/>
<rect x="348.58" y="251.42" width="3.7" height="12.48" fill="#c6d4f6"/>
<rect x="303.56" y="254.70" width="3.7" height="9.20" fill="#c6d4f6"/>
<rect x="343.74" y="254.70" width="3.7" height="9.20" fill="#c6d4f6"/>
<circle cx="325.3" cy="252.2" r="13.9" fill="none" stroke="#e6ebfb" stroke-width="3.2"/>
<circle cx="325.3" cy="252.2" r="8.9" fill="none" stroke="#e6ebfb" stroke-width="4.5"/>
<path d="M325.3,236 V243 M325.3,261.5 V268 M309,252.2 H316.2 M334.4,252.2 H341.5" stroke="#09090b" stroke-width="1.5"/>
<rect x="309.4" y="458.8" width="33.3" height="32.5" rx="4.5" fill="#161616" stroke="#383838" stroke-width="0.9"/>
</g>
<g transform="translate(489.677,441.600) scale(0.32618,0.31481)">
<g transform="translate(0,219.6) scale(1.1,1.2)" font-family="Liberation Sans, sans-serif" font-weight="bold" font-size="22" fill="#f4f7ff" stroke="#f4f7ff" stroke-width="1.5"><text y="0" x="237.18 249.91 262.00 267.36">93.0</text><text y="0" x="309.00 322.64 335.64 340.18">69.9</text></g>
<text x="260.8" y="197.5" font-family="Liberation Sans, sans-serif" font-size="9.6" fill="#cfd6ea" stroke="#cfd6ea" stroke-width="0.6" textLength="36" lengthAdjust="spacingAndGlyphs">Set Temp</text>
<text x="338" y="197.5" font-family="Liberation Sans, sans-serif" font-size="9.6" fill="#cfd6ea" stroke="#cfd6ea" stroke-width="0.6" textLength="50.5" lengthAdjust="spacingAndGlyphs">Current Temp</text>
<text x="261.3" y="296" font-family="Liberation Sans, sans-serif" font-size="7.4" font-weight="bold" fill="#dde" stroke="#dde" stroke-width="0.6" textLength="26.3" lengthAdjust="spacingAndGlyphs">Shut Off</text>
<text x="370.1" y="282" font-family="Liberation Sans, sans-serif" font-size="9" fill="#dde" stroke="#dde" stroke-width="0.6" textLength="23" lengthAdjust="spacingAndGlyphs">Probe</text>
<text x="370.9" y="292.5" font-family="Liberation Sans, sans-serif" font-size="9" fill="#dde" stroke="#dde" stroke-width="0.6" textLength="18.5" lengthAdjust="spacingAndGlyphs">Fault</text>
<g transform="translate(300.2,179.4) scale(0.6) translate(-288.1,-354.5)" fill="#c9d6f8">
<text x="289" y="354.6" font-family="Liberation Sans, sans-serif" font-size="24" font-weight="bold" font-style="italic" stroke="#c9d6f8" stroke-width="2.0" stroke-linejoin="round" textLength="72.6" lengthAdjust="spacingAndGlyphs">hygger</text>
<path d="M313,358.5 C317,363 325,365.5 334,363 C342,360.8 349,359.5 355,361 C359,362 361.5,363.8 362.8,365.5 C359.5,364.8 357.5,365.5 356.6,367.8 C355.5,365 353,363.6 349.5,363.6 C350.8,365 351,366.5 350.5,367.8 C348.5,365.5 346,364.3 342.5,364.5 C341.5,364.6 341.8,366.5 341,367.8 C339,366 336.5,365.6 333,366 C325,367 317,364 313,358.5 Z"/>
<circle cx="299.1" cy="336" r="2.6"/>
<circle cx="305" cy="339.7" r="1.5"/>
<circle cx="307.2" cy="335.4" r="1.6"/>
<circle cx="310.9" cy="339.7" r="1.7"/>
<circle cx="315.3" cy="338.1" r="2.1"/>
</g>
<text x="260.5" y="286" font-family="Liberation Sans, sans-serif" font-size="12" fill="#eef" stroke="#eef" stroke-width="1.1" textLength="24.6" lengthAdjust="spacingAndGlyphs">Auto</text>
<text x="305.3" y="292" font-family="Liberation Sans, sans-serif" font-size="14" fill="#eef" stroke="#eef" stroke-width="1.1" textLength="24.2" lengthAdjust="spacingAndGlyphs">Low</text>
<text x="344.6" y="292" font-family="Liberation Sans, sans-serif" font-size="14" fill="#eef" stroke="#eef" stroke-width="1.1" textLength="11.2" lengthAdjust="spacingAndGlyphs">Hi</text>
<g fill="#fff">
<text x="289" y="354.6" font-family="Liberation Sans, sans-serif" font-size="24" font-weight="bold" font-style="italic" stroke="#fff" stroke-width="2.2" stroke-linejoin="round" textLength="72.6" lengthAdjust="spacingAndGlyphs">hygger</text>
<path d="M313,358.5 C317,363 325,365.5 334,363 C342,360.8 349,359.5 355,361 C359,362 361.5,363.8 362.8,365.5 C359.5,364.8 357.5,365.5 356.6,367.8 C355.5,365 353,363.6 349.5,363.6 C350.8,365 351,366.5 350.5,367.8 C348.5,365.5 346,364.3 342.5,364.5 C341.5,364.6 341.8,366.5 341,367.8 C339,366 336.5,365.6 333,366 C325,367 317,364 313,358.5 Z"/>
<circle cx="299.1" cy="336" r="2.6"/>
<circle cx="305" cy="339.7" r="1.5"/>
<circle cx="307.2" cy="335.4" r="1.6"/>
<circle cx="310.9" cy="339.7" r="1.7"/>
<circle cx="315.3" cy="338.1" r="2.1"/>
</g>
<text x="315.2" y="480.8" font-family="Liberation Sans, sans-serif" font-size="14.4" font-weight="bold" fill="#fff" stroke="#fff" stroke-width="0.8" textLength="22.5" lengthAdjust="spacingAndGlyphs">SET</text>
</g>
</svg>
<div id="lab">
<div id="ttl">
<div class="t" style="left:43.29px;top:-2.90px;font-size:34.4px;font-weight:bold;color:#e0873b;-webkit-text-stroke:0.7px #e0873b;transform:scaleX(0.8530)">LED</div>
<div class="t" style="left:115.19px;top:-2.90px;font-size:34.4px;font-weight:bold;color:#e0873b;-webkit-text-stroke:0.35px #e0873b;transform:scaleX(1.0059)">Digital</div>
<div class="t" style="left:232.40px;top:-2.90px;font-size:34.4px;font-weight:bold;color:#e0873b;-webkit-text-stroke:0.35px #e0873b;transform:scaleX(1.0039)">Temperature</div>
<div class="t" style="left:452.52px;top:-2.90px;font-size:34.4px;font-weight:bold;color:#e0873b;-webkit-text-stroke:0.35px #e0873b;transform:scaleX(0.9810)">Controller</div>
</div>
<div class="t" style="left:477.72px;top:113.70px;font-size:12.8px;font-weight:bold;color:#e0873b;transform:scaleX(0.9809)">Sound alarm + flashing reminder</div>
<div class="t" style="left:5.24px;top:153.50px;font-size:16.6px;font-weight:bold;color:#e0873b;transform:scaleX(1.0552)">Set temperature</div>
<div class="t" style="left:5.26px;top:174.40px;font-size:14px;font-weight:normal;color:#1c1c1c;transform:scaleX(1.0425)">Display set temperature</div>
<div class="t" style="left:5.42px;top:273.40px;font-size:16.6px;font-weight:bold;color:#e0873b;transform:scaleX(1.0787)">Dry burn warning</div>
<div class="t" style="left:5.42px;top:318.40px;font-size:16.6px;font-weight:bold;color:#e0873b;transform:scaleX(1.0811)">Low temperature</div>
<div class="t" style="left:5.70px;top:336.80px;font-size:16.6px;font-weight:bold;color:#e0873b;transform:scaleX(1.0683)">warning</div>
<div class="t" style="left:3.30px;top:382.10px;font-size:16.6px;font-weight:bold;color:#e0873b;transform:scaleX(1.1018)">Setting button</div>
<div class="t" style="left:3.33px;top:402.30px;font-size:14px;font-weight:normal;color:#1c1c1c;transform:scaleX(1.0656)">Set the temperature from</div>
<div class="t" style="left:3.68px;top:421.40px;font-size:14px;font-weight:normal;color:#1c1c1c;transform:scaleX(1.0215)">59°F to 93°F.</div>
<div class="t" style="left:475.77px;top:155.30px;font-size:16.6px;font-weight:bold;color:#e0873b;transform:scaleX(1.0271)">Current</div>
<div class="t" style="left:476.80px;top:174.00px;font-size:16.6px;font-weight:bold;color:#e0873b;transform:scaleX(1.0597)">water temperature</div>
<div class="t" style="left:475.75px;top:191.10px;font-size:14px;font-weight:normal;color:#1c1c1c;transform:scaleX(1.0506)">Display water temperature</div>
<div class="t" style="left:477.70px;top:239.50px;font-size:16.6px;font-weight:bold;color:#e0873b;transform:scaleX(1.0596)">Work indicator light</div>
<div class="t" style="left:477.37px;top:259.20px;font-size:14px;font-weight:normal;color:#1c1c1c;transform:scaleX(1.0337)">Flash-heating</div>
<div class="t" style="left:475.73px;top:279.20px;font-size:14px;font-weight:normal;color:#1c1c1c;transform:scaleX(1.0667)">Stop flashing - stop heating</div>
<div class="t" style="left:475.76px;top:297.60px;font-size:14px;font-weight:normal;color:#1c1c1c;transform:scaleX(1.0443)">and maitain a constant</div>
<div class="t" style="left:476.80px;top:315.70px;font-size:14px;font-weight:normal;color:#1c1c1c;transform:scaleX(1.0667)">temperature</div>
<div class="t" style="left:479.92px;top:356.90px;font-size:16.6px;font-weight:bold;color:#e0873b;transform:scaleX(1.0756)">Probe fault</div>
<div class="t" style="left:479.93px;top:409.50px;font-size:16.6px;font-weight:bold;color:#e0873b;transform:scaleX(1.0736)">Overheating warning</div>
</div>
</div>
</body></html>
